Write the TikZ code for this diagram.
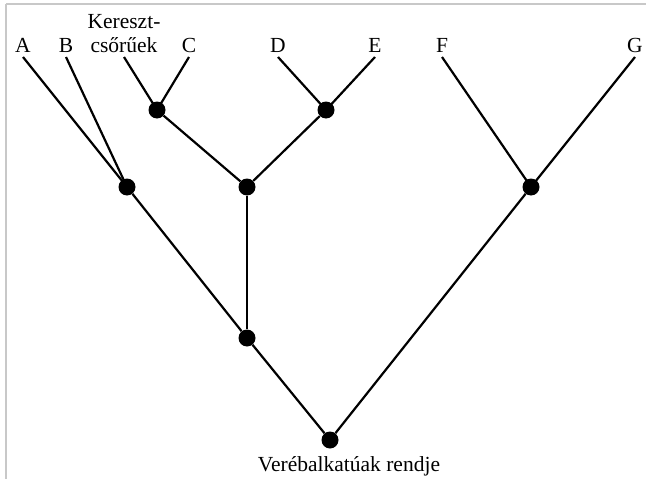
\documentclass[tikz,border=0pt]{standalone}
\usepackage{fontspec}
\setmainfont{Liberation Serif}
\usepackage{tikz}
\usetikzlibrary{positioning}
\definecolor{framegray}{HTML}{C8C8C8}

\begin{document}
\begin{tikzpicture}[x=1pt, y=-1pt,
  taxon/.style={font=\fontsize{21.5}{24}\selectfont, anchor=south, inner sep=4pt, align=center},
  dot/.style={circle, fill=black, minimum size=17pt, inner sep=0pt},
  edge/.style={line width=2.2pt, black}
]
  \useasboundingbox (0,0) rectangle (646,479);
  \draw[framegray, line width=1.5pt] (6,4) -- (646,4);
  \draw[framegray, line width=1.5pt] (6,4) -- (6,479);

  % leaves
  \node[taxon] (a) at (23,57) {A};
  \node[taxon] (b) at (66,57) {B};
  \node[taxon] (kc) at (124,57) {Kereszt-\\cs\H{o}r\H{u}ek};
  \node[taxon] (c) at (189,57) {C};
  \node[taxon] (d) at (278,57) {D};
  \node[taxon] (e) at (375,57) {E};
  \node[taxon] (f) at (442,57) {F};
  \node[taxon] (g) at (635,57) {G};

  % inner nodes
  \node[dot] (kcc) at (157,110) {};
  \node[dot] (de) at (326,110) {};
  \node[dot] (ab) at (127,187) {};
  \node[dot] (mid) at (247,187) {};
  \node[dot] (fg) at (531,187) {};
  \node[dot] (low) at (247,338) {};
  \node[dot] (root) at (330,440) {};
  \node[font=\fontsize{21.5}{24}\selectfont, anchor=base] (rootlbl) at (349,471) {Ver\'ebalkat\'uak rendje};

  \draw[edge] (a.south) -- (ab.center);
  \draw[edge] (b.south) -- (ab.center);
  \draw[edge] (kc.south) -- (kcc.center);
  \draw[edge] (c.south) -- (kcc.center);
  \draw[edge] (d.south) -- (de.center);
  \draw[edge] (e.south) -- (de.center);
  \draw[edge] (f.south) -- (fg.center);
  \draw[edge] (g.south) -- (fg.center);
  \draw[edge] (kcc) -- (mid);
  \draw[edge] (de) -- (mid);
  \draw[edge] (mid) -- (low);
  \draw[edge] (ab) -- (low);
  \draw[edge] (low) -- (root);
  \draw[edge] (fg) -- (root);
\end{tikzpicture}
\end{document}
